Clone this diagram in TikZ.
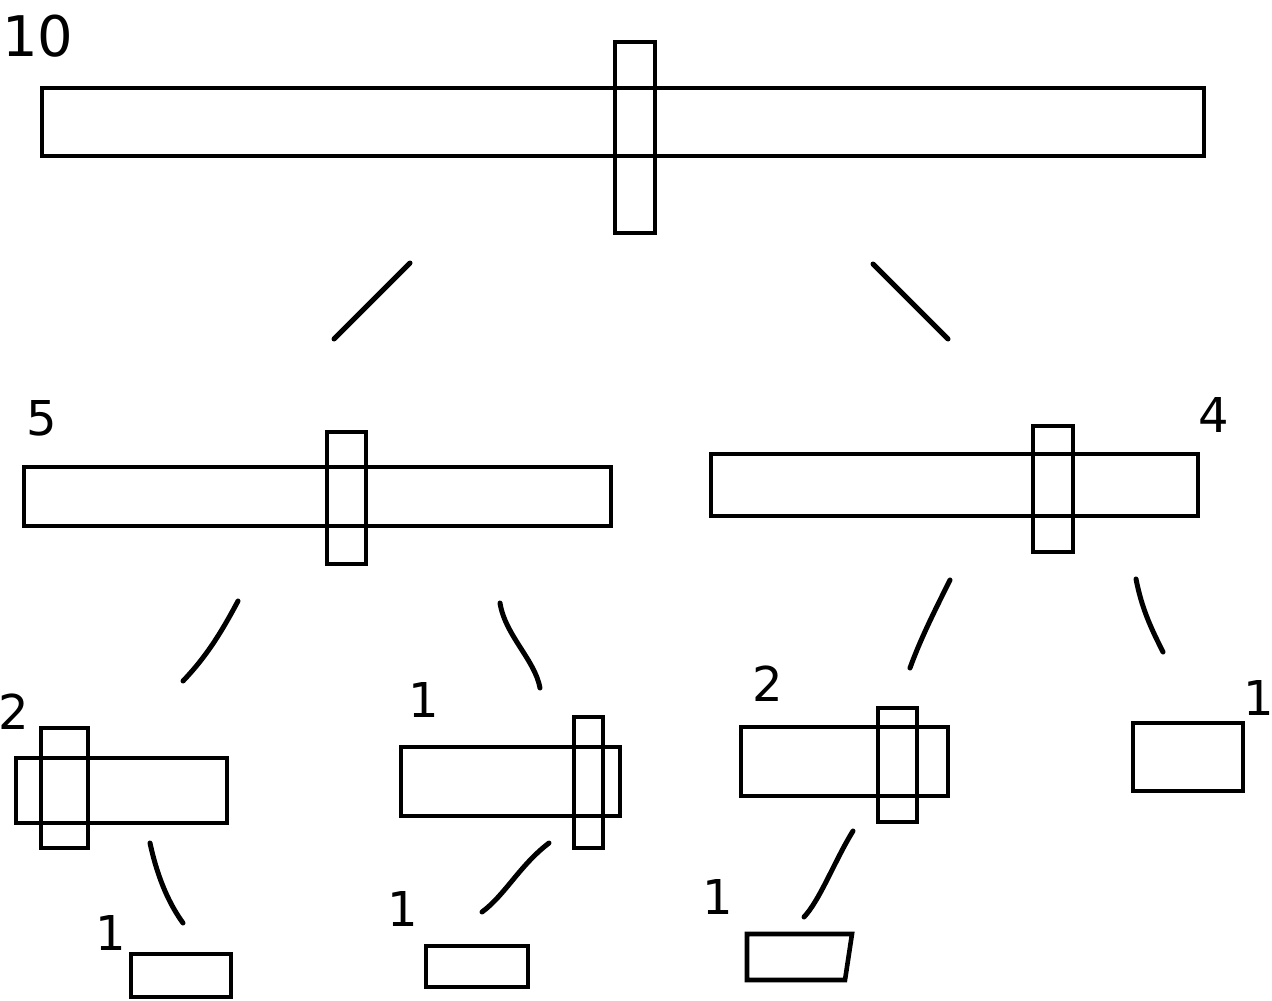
\documentclass[tikz,border=0pt]{standalone}
\usepackage{fontspec}
\setmainfont{DejaVu Sans}
\begin{document}
\begin{tikzpicture}[x=0.5pt,y=-0.5pt,
  box/.style={draw=black,line width=2.3pt,fill=white},
  conn/.style={draw=black,line width=2.5pt,line cap=round},
  lbl/.style={font=\fontsize{24}{26}\selectfont,inner sep=0pt},
  biglbl/.style={font=\fontsize{28}{30}\selectfont,inner sep=0pt}]
\useasboundingbox[fill=white] (0,0) rectangle (1272,1000);
% top level
\draw[box] (42,88) rectangle (1204,156);
\draw[box,fill=none] (615,42) rectangle (655,233);
\node[biglbl] (l10) at (38,36) {10};
% connectors level 1
\coordinate (c1a) at (410,263); \coordinate (c1b) at (334,339);
\coordinate (c2a) at (873,264); \coordinate (c2b) at (948,339);
\draw[conn] (c1a) -- (c1b);
\draw[conn] (c2a) -- (c2b);
% level 2 left
\draw[box] (24,467) rectangle (611,526);
\draw[box,fill=none] (327,432) rectangle (366,564);
\node[lbl] (l5) at (42,418) {5};
% level 2 right
\draw[box] (711,454) rectangle (1198,516);
\draw[box,fill=none] (1033,426) rectangle (1073,552);
\node[lbl] (l4) at (1214,415) {4};
% connectors level 2
\coordinate (c3a) at (238,601); \coordinate (c3b) at (183,681);
\coordinate (c4a) at (500,603); \coordinate (c4b) at (540,688);
\coordinate (c5a) at (950,580); \coordinate (c5b) at (910,668);
\coordinate (c6a) at (1136,579); \coordinate (c6b) at (1163,652);
\draw[conn] (c3a) .. controls (220,635) and (205,658) .. (c3b);
\draw[conn] (c4a) .. controls (505,635) and (535,660) .. (c4b);
\draw[conn] (c5a) .. controls (935,610) and (920,640) .. (c5b);
\draw[conn] (c6a) .. controls (1142,610) and (1152,630) .. (c6b);
% level 3
\draw[box] (16,758) rectangle (227,823);
\draw[box,fill=none] (41,728) rectangle (88,848);
\node[lbl] (l2a) at (14,712) {2};
\draw[box] (401,747) rectangle (620,816);
\draw[box,fill=none] (574,717) rectangle (603,848);
\node[lbl] (l1b) at (424,700) {1};
\draw[box] (741,727) rectangle (948,796);
\draw[box,fill=none] (878,708) rectangle (917,822);
\node[lbl] (l2c) at (768,684) {2};
\draw[box] (1133,723) rectangle (1243,791);
\node[lbl] (l1d) at (1259,698) {1};
% connectors level 3
\coordinate (c7a) at (150,843); \coordinate (c7b) at (183,923);
\coordinate (c8a) at (549,843); \coordinate (c8b) at (482,912);
\coordinate (c9a) at (853,831); \coordinate (c9b) at (804,917);
\draw[conn] (c7a) .. controls (158,880) and (170,905) .. (c7b);
\draw[conn] (c8a) .. controls (520,865) and (505,895) .. (c8b);
\draw[conn] (c9a) .. controls (835,860) and (820,900) .. (c9b);
% level 4
\draw[box] (131,954) rectangle (231,997);
\node[lbl] (l1e) at (111,933) {1};
\draw[box] (426,946) rectangle (528,987);
\node[lbl] (l1f) at (403,909) {1};
\draw[box] (747,934) -- (852,934) -- (845,980) -- (747,980) -- cycle;
\node[lbl] (l1g) at (718,897) {1};
\end{tikzpicture}
\end{document}
